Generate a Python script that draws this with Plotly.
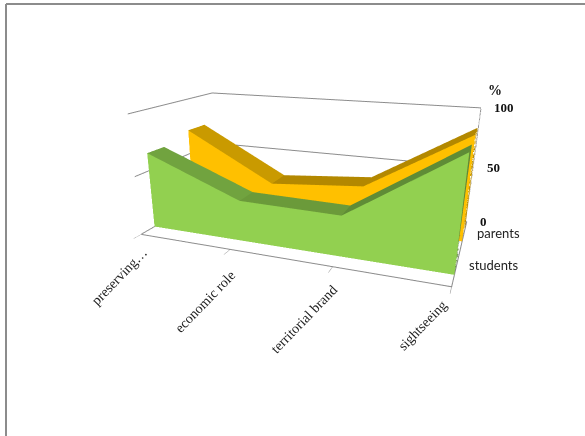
import plotly.graph_objects as go

# Percent answers by topic and respondent group
categories = ["preserving…", "economic role", "territorial brand", "sightseeing"]
students = [65, 34, 33, 88]
parents = [72, 30, 37, 87]
groups = ["students", "parents"]
z_ticks = [0, 50, 100]

GRID = "#8c8c8c"
SERIF = "Liberation Serif"
X_MAX, Y_MAX, Z_MAX = 3, 2, 100


def band(values, y0, y1, front, tops, side):
    """Front face, sloped roof strips and end cap of one 3D area band."""
    xs, ys, zs, i, j, k, colors = [], [], [], [], [], [], []

    def quad(a, b, c, d, color):
        n = len(xs)
        for x, y, z in (a, b, c, d):
            xs.append(x)
            ys.append(y)
            zs.append(z)
        i.extend([n, n])
        j.extend([n + 1, n + 2])
        k.extend([n + 2, n + 3])
        colors.extend([color, color])

    for n in range(len(values) - 1):
        v0, v1 = values[n], values[n + 1]
        quad((n, y0, 0), (n + 1, y0, 0), (n + 1, y0, v1), (n, y0, v0), front)
        quad((n, y0, v0), (n + 1, y0, v1), (n + 1, y1, v1), (n, y1, v0), tops[n])
    last = len(values) - 1
    quad((last, y0, 0), (last, y1, 0), (last, y1, values[-1]), (last, y0, values[-1]), side)
    return go.Mesh3d(
        x=xs, y=ys, z=zs, i=i, j=j, k=k, facecolor=colors, flatshading=True,
        lighting=dict(ambient=1, diffuse=0, specular=0, fresnel=0),
        hoverinfo="skip", showscale=False,
    )


def frame_line(xs, ys, zs):
    return go.Scatter3d(x=xs, y=ys, z=zs, mode="lines", hoverinfo="skip",
                        line=dict(color=GRID, width=2), showlegend=False)


traces = [
    band(parents, 1.27, 1.72, "#ffc000", ["#c99a00", "#b38800", "#b38800"], "#bf9000"),
    band(students, 0.29, 0.66, "#92d050", ["#71a33f", "#6b9a3a", "#5f8c36"], "#5f8a38"),
    # value axis on the far right corner, depth axis along the right floor edge
    frame_line([X_MAX, X_MAX], [Y_MAX, Y_MAX], [0, Z_MAX]),
    frame_line([X_MAX, X_MAX], [0, Y_MAX], [0, 0]),
]
for v in z_ticks:
    traces.append(frame_line([X_MAX, X_MAX + 0.05], [Y_MAX, Y_MAX], [v, v]))
for d in range(Y_MAX + 1):
    traces.append(frame_line([X_MAX, X_MAX + 0.06], [d, d], [0, 0]))

fig = go.Figure(traces)

# Rotated category labels hang off their ticks; each gets its own small pixel offset
label_offsets = [(12, -8), (11, -15), (10, -13), (1, -8)]
notes = []
for n, name in enumerate(categories):
    dx, dy = label_offsets[n]
    notes.append(dict(x=n, y=0, z=0, text=name, textangle=-46, showarrow=False,
                      xanchor="right", yanchor="top", xshift=dx, yshift=dy,
                      font=dict(family=SERIF, size=14, color="#222222")))
for n, name in enumerate(groups):
    notes.append(dict(x=X_MAX, y=n + 0.5, z=0, text=name, showarrow=False,
                      xanchor="left", yanchor="middle", xshift=11, yshift=2,
                      font=dict(family="Lato", size=13, color="#222222")))
for v in z_ticks:
    notes.append(dict(x=X_MAX, y=Y_MAX, z=v, text=f"<b>{v}</b>", showarrow=False,
                      xanchor="left", yanchor="middle", xshift=11,
                      font=dict(family=SERIF, size=13, color="#111111")))
notes.append(dict(x=X_MAX, y=Y_MAX, z=Z_MAX, text="<b>%</b>", showarrow=False,
                  xanchor="left", yshift=17, xshift=5,
                  font=dict(family=SERIF, size=14, color="#111111")))


def plain_axis(**kw):
    return dict(title="", showbackground=False, showspikes=False, zeroline=False,
                showticklabels=False, **kw)


fig.update_layout(
    width=585, height=436, margin=dict(l=0, r=0, t=0, b=0),
    paper_bgcolor="white", showlegend=False,
    scene=dict(
        domain=dict(x=[0, 1], y=[0, 1]),
        xaxis=plain_axis(range=[0, X_MAX], tickvals=[0, 1, 2, 3], showgrid=False,
                         ticks="outside", ticklen=4, tickcolor=GRID,
                         showline=True, linecolor=GRID, linewidth=2),
        yaxis=plain_axis(range=[0, Y_MAX], showgrid=False, showline=False, ticks=""),
        zaxis=plain_axis(range=[0, Z_MAX], tickvals=z_ticks, showgrid=True, showline=False,
                         ticks="", gridcolor=GRID, gridwidth=2),
        aspectmode="manual", aspectratio=dict(x=0.960, y=0.497, z=0.383),
        camera=dict(eye=dict(x=0.539, y=-1.518, z=0.455),
                    center=dict(x=-0.106, y=0.123, z=-0.215),
                    up=dict(x=0, y=0, z=1),
                    projection=dict(type="perspective")),
        annotations=notes,
    ),
    shapes=[
        dict(type="line", xref="paper", yref="paper", x0=6 / 585, x1=1,
             y0=1 - 4 / 436, y1=1 - 4 / 436, line=dict(color="#8c8c8c", width=2)),
        dict(type="line", xref="paper", yref="paper", x0=6 / 585, x1=6 / 585,
             y0=0, y1=1 - 4 / 436, line=dict(color="#8c8c8c", width=2)),
    ],
)

fig.write_html("out.html")
